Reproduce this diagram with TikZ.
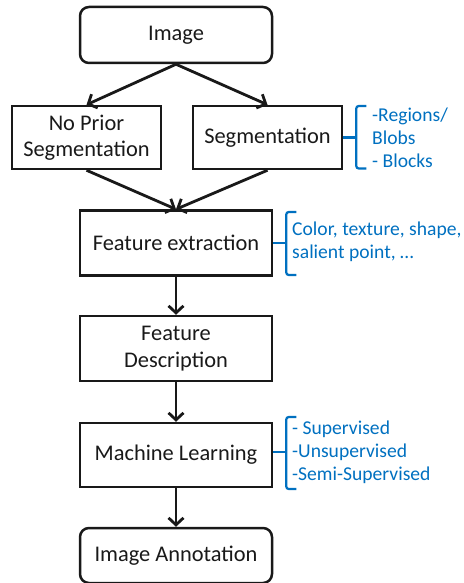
\documentclass[tikz,border=0pt]{standalone}
\usepackage{fontspec}
\setmainfont{Carlito}
\usetikzlibrary{arrows.meta,calc}
\definecolor{annblue}{RGB}{0,112,192}
\definecolor{boxblack}{RGB}{25,25,25}
\tikzset{
  flowbox/.style={draw=boxblack,line width=2.5pt,minimum width=192pt,align=center,
    text=boxblack,inner sep=0pt,font=\fontsize{22.4}{26.5}\selectfont},
  roundbox/.style={flowbox,rounded corners=9pt},
  flowarrow/.style={draw=boxblack,line width=2.8pt,-{Straight Barb[length=7pt,width=15pt,line width=2.8pt]}},
  annbrace/.style={draw=annblue,line width=2.2pt,rounded corners=2.5pt},
  anntext/.style={text=annblue,align=left,anchor=west,inner sep=0pt,font=\fontsize{19.6}{23}\selectfont}
}
\begin{document}
\begin{tikzpicture}[x=1pt,y=-1pt]
\useasboundingbox (0,0) rectangle (463,583);
\node[roundbox,minimum height=56pt] (img) at (176,35) {Image};
\node[flowbox,minimum width=149pt,minimum height=63pt] (np) at (86.5,137.5) {No Prior\\Segmentation};
\node[flowbox,minimum width=149pt,minimum height=63pt] (seg) at (267.5,137.5) {Segmentation};
\node[flowbox,minimum height=65pt] (fe) at (176,243) {Feature extraction};
\node[flowbox,minimum height=65pt] (fd) at (176,348.5) {Feature\\Description};
\node[flowbox,minimum height=64pt] (ml) at (176,455) {Machine Learning};
\node[roundbox,minimum height=55pt] (ia) at (176,555.5) {Image Annotation};

\draw[flowarrow] (img.south) -- (np.north);
\draw[flowarrow] (img.south) -- (seg.north);
\draw[flowarrow] (np.south) -- (fe.north);
\draw[flowarrow] (seg.south) -- (fe.north);
\draw[flowarrow] (fe.south) -- (fd.north);
\draw[flowarrow] (fd.south) -- (ml.north);
\draw[flowarrow] (ml.south) -- (ia.north);

% segmentation brace
\coordinate (sb) at ($(seg.east)+(13,0)$);
\draw[annbrace] ($(sb)+(10,-31.5)$) -- ($(sb)+(0,-31.5)$) -- ($(sb)+(0,31)$) -- ($(sb)+(10,31)$);
\draw[annbrace] (seg.east) -- (sb);
\node[anntext] (segt) at (372,137.5) {-Regions/\\Blobs\\- Blocks};

% feature extraction brace
\coordinate (fb) at ($(fe.east)+(13,0)$);
\draw[annbrace] ($(fb)+(10,-31)$) -- ($(fb)+(0,-31)$) -- ($(fb)+(0,32)$) -- ($(fb)+(10,32)$);
\draw[annbrace] (fe.east) -- (fb);
\node[anntext] (fet) at (292,241.5) {Color, texture, shape,\\salient point, …};

% machine learning brace
\coordinate (mb) at ($(ml.east)+(13,-3)$);
\draw[annbrace] ($(mb)+(10,-35)$) -- ($(mb)+(0,-35)$) -- ($(mb)+(0,37)$) -- ($(mb)+(10,37)$);
\draw[annbrace] ($(ml.east)+(0,-3)$) -- (mb);
\node[anntext] (mlt) at (292,452) {- Supervised\\-Unsupervised\\-Semi-Supervised};
\end{tikzpicture}
\end{document}
